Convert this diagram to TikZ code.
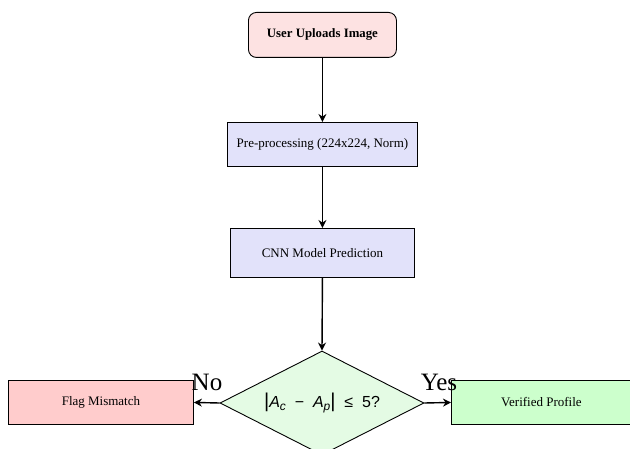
\documentclass[tikz,border=0pt]{standalone}
\usepackage{fontspec}
\setmainfont{Liberation Serif}
\newfontfamily\formfont{Liberation Sans}
\usetikzlibrary{shapes.geometric,arrows.meta}
\definecolor{startpink}{HTML}{FDE2E2}
\definecolor{lav}{HTML}{E2E2FA}
\definecolor{flagpink}{HTML}{FFCCCC}
\definecolor{okgreen}{HTML}{CCFFCC}
\definecolor{diagreen}{HTML}{E4FBE4}
\begin{document}
\begin{tikzpicture}[x=1pt,y=-1pt,
  box/.style={draw=black, line width=0.9pt, anchor=north west, inner sep=0pt},
  conn/.style={-{Stealth[length=8pt,width=8pt]}, line width=1.4pt},
  lbl/.style={font=\fontsize{25}{25}\selectfont, inner sep=0pt}]
\useasboundingbox (0,0) rectangle (630,449);
\node[box, rounded corners=8pt, fill=startpink, minimum width=148pt, minimum height=45pt,
  font=\bfseries\fontsize{12.8}{14}\selectfont] (start) at (248,12) {User\ Uploads\ Image};
\node[box, fill=lav, minimum width=190pt, minimum height=44pt, font=\fontsize{13}{15}\selectfont]
  (pre) at (227,122) {Pre-processing (224x224, Norm)};
\node[box, fill=lav, minimum width=184pt, minimum height=49pt, font=\fontsize{13}{15}\selectfont]
  (cnn) at (230,228) {CNN Model Prediction};
\node[draw=black, line width=0.9pt, fill=diagreen, diamond, aspect=1.96, minimum width=204pt,
  minimum height=104pt, inner sep=0pt, font=\formfont\fontsize{16}{18}\selectfont]
  (dec) at (322,403) {{\fontsize{20}{20}\selectfont|}\textit{A}\raisebox{-0.35ex}{\fontsize{12}{12}\selectfont\textit{c}}\ \ −\ \ \textit{A}\raisebox{-0.35ex}{\fontsize{12}{12}\selectfont\textit{p}}{\fontsize{20}{20}\selectfont|}\ \ ≤\ \ 5?};
\node[box, fill=flagpink, minimum width=185pt, minimum height=44pt, font=\fontsize{13}{15}\selectfont]
  (flag) at (8,380) {Flag Mismatch};
\node[box, fill=okgreen, minimum width=180pt, minimum height=44pt, font=\fontsize{13}{15}\selectfont]
  (ok) at (451,380) {Verified Profile};
\draw[conn] (start.south) -- (pre.north);
\draw[conn] (pre.south) -- (cnn.north);
\draw[conn] (cnn.south) -- (dec.north);
\draw[conn] (dec.west) -- (flag.east);
\draw[conn] (dec.east) -- (ok.west);
\node[lbl] (no) at (207,382) {No};
\node[lbl] (yes) at (439,382) {Yes};
\end{tikzpicture}
\end{document}
